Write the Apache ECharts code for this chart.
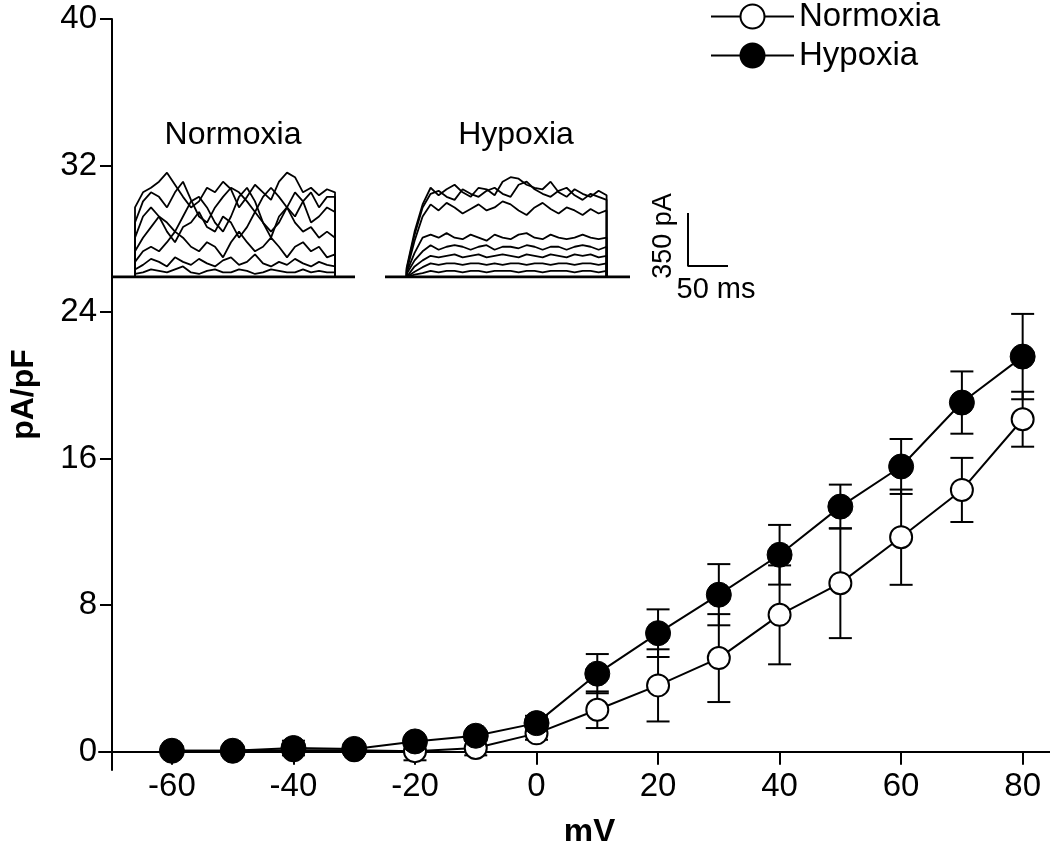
<!DOCTYPE html>
<html>
<head>
<meta charset="utf-8">
<script src="https://cdn.jsdelivr.net/npm/echarts@6/dist/echarts.min.js"></script>
<style>
html, body { margin: 0; padding: 0; background: #fff; }
#container { width: 1050px; height: 841px; }
</style>
</head>
<body>
<div id="container"></div>
<script>
// I-V data (mean +/- SEM, pA/pF)
var voltages = [-60, -50, -40, -30, -20, -10, 0, 10, 20, 30, 40, 50, 60, 70, 80];
var normoxiaMean = [0.05, 0.05, 0.08, 0.08, 0.03, 0.2, 1.0, 2.29, 3.62, 5.11, 7.47, 9.2, 11.71, 14.29, 18.15];
var normoxiaSem = [0.1, 0.1, 0.1, 0.1, 0.5, 0.4, 0.35, 1.0, 1.97, 2.4, 2.7, 3.0, 2.6, 1.75, 1.5];
var hypoxiaMean = [0.05, 0.05, 0.2, 0.15, 0.56, 0.87, 1.56, 4.26, 6.47, 8.57, 10.75, 13.38, 15.57, 19.06, 21.57];
var hypoxiaSem = [0.1, 0.1, 0.4, 0.1, 0.15, 0.2, 0.4, 1.07, 1.3, 1.67, 1.63, 1.2, 1.5, 1.7, 2.33];
var xTicks = [-60, -40, -20, 0, 20, 40, 60, 80];
var yTicks = [0, 8, 16, 24, 32, 40];

// inset current traces (pA), sampled every 10 ms of the 250 ms step
var traceTime = [0, 10, 20, 30, 40, 50, 60, 70, 80, 90, 100, 110, 120, 130, 140, 150, 160, 170, 180, 190, 200, 210, 220, 230, 240, 250];
var normA = [460, 560, 590, 630, 690, 610, 530, 460, 500, 590, 560, 630, 580, 460, 530, 610, 560, 510, 630, 690, 660, 560, 590, 540, 580, 560];
var normB = [360, 500, 560, 530, 460, 560, 630, 510, 400, 360, 460, 530, 590, 560, 500, 430, 530, 590, 530, 460, 400, 500, 560, 460, 530, 530];
var normC = [260, 400, 460, 400, 360, 300, 400, 500, 530, 460, 360, 300, 400, 530, 590, 500, 360, 300, 360, 460, 560, 500, 360, 400, 460, 430];
var normD = [170, 260, 330, 400, 300, 230, 330, 360, 430, 330, 300, 400, 360, 260, 330, 430, 360, 260, 400, 460, 360, 300, 330, 260, 300, 260];
var normE = [100, 170, 200, 170, 230, 300, 260, 200, 170, 230, 200, 130, 230, 300, 230, 170, 200, 260, 200, 130, 200, 230, 170, 200, 130, 150];
var normF = [50, 80, 120, 100, 70, 130, 100, 80, 120, 90, 70, 110, 130, 80, 100, 150, 90, 70, 100, 80, 120, 90, 70, 100, 80, 70];
var normG = [20, 30, 50, 40, 30, 50, 70, 30, 20, 40, 50, 30, 30, 50, 40, 20, 30, 50, 40, 30, 30, 50, 30, 40, 30, 30];

var hypoA = [60, 300, 480, 590, 540, 580, 610, 560, 530, 590, 580, 540, 630, 660, 650, 610, 590, 580, 630, 560, 530, 580, 550, 530, 570, 540];
var hypoB = [50, 280, 460, 550, 570, 530, 510, 580, 550, 530, 570, 590, 550, 530, 610, 630, 580, 550, 530, 570, 590, 540, 510, 550, 530, 510];
var hypoC = [40, 240, 400, 480, 440, 490, 460, 420, 450, 480, 440, 460, 500, 480, 440, 410, 460, 490, 450, 420, 460, 440, 410, 450, 420, 440];
var hypoD = [30, 160, 260, 280, 260, 290, 260, 250, 280, 260, 240, 280, 260, 250, 280, 290, 260, 250, 280, 260, 250, 260, 280, 260, 250, 260];
var hypoE = [20, 110, 170, 210, 180, 200, 210, 200, 180, 200, 210, 180, 200, 200, 190, 210, 200, 180, 200, 200, 180, 200, 210, 200, 180, 200];
var hypoF = [10, 70, 110, 140, 130, 140, 150, 130, 140, 150, 130, 140, 150, 140, 130, 150, 140, 130, 150, 140, 130, 150, 140, 150, 130, 140];
var hypoG = [5, 35, 65, 90, 80, 90, 90, 80, 90, 90, 80, 90, 80, 90, 90, 80, 90, 90, 80, 90, 90, 80, 90, 90, 80, 90];
var hypoH = [3, 15, 25, 40, 30, 40, 40, 30, 40, 40, 30, 40, 40, 40, 30, 40, 40, 30, 40, 40, 40, 30, 40, 40, 30, 40];

var normSweep = [-27.5, 275];
var hypoSweep = [-27, 279.25];
var scaleBarPA = 350, scaleBarMs = 50;

var FONT = '"Liberation Sans", Arial, sans-serif';

var dom = document.getElementById('container');
var myChart = echarts.init(dom);

function traceData(values) {
    var d = [[0, 0]];
    values.forEach(function (v, i) { d.push([traceTime[i], v]); });
    d.push([250, 0]);
    return d;
}

function traceSeries(values, axisIdx) {
    return {
        type: 'line', xAxisIndex: axisIdx, yAxisIndex: axisIdx,
        data: traceData(values), symbol: 'none', silent: true,
        lineStyle: { color: '#000', width: 1.8 }, z: 1
    };
}

function baselineSeries(span, axisIdx) {
    return {
        type: 'line', xAxisIndex: axisIdx, yAxisIndex: axisIdx,
        data: [[span[0], 0], [span[1], 0]], symbol: 'none', silent: true,
        lineStyle: { color: '#000', width: 3 }, z: 2
    };
}

function errorBars(name, mean, sem) {
    return {
        type: 'custom', name: name + ' SEM', z: 3, silent: true,
        data: voltages.map(function (v, i) { return [v, mean[i] - sem[i], mean[i] + sem[i]]; }),
        encode: { x: 0, y: [1, 2] },
        renderItem: function (params, api) {
            var x = api.value(0);
            var top = api.coord([x, api.value(2)]);
            var bot = api.coord([x, api.value(1)]);
            var hw = 11.5;
            var st = { stroke: '#000', lineWidth: 2 };
            return {
                type: 'group', children: [
                    { type: 'line', shape: { x1: top[0], y1: top[1], x2: bot[0], y2: bot[1] }, style: st },
                    { type: 'line', shape: { x1: top[0] - hw, y1: top[1], x2: top[0] + hw, y2: top[1] }, style: st },
                    { type: 'line', shape: { x1: bot[0] - hw, y1: bot[1], x2: bot[0] + hw, y2: bot[1] }, style: st }
                ]
            };
        }
    };
}

var hiddenAxis = { show: false, type: 'value' };

var series = [];
[normA, normB, normC, normD, normE, normF, normG].forEach(function (t) { series.push(traceSeries(t, 1)); });
series.push(baselineSeries(normSweep, 1));
[hypoA, hypoB, hypoC, hypoD, hypoE, hypoF, hypoG, hypoH].forEach(function (t) { series.push(traceSeries(t, 2)); });
series.push(baselineSeries(hypoSweep, 2));
series.push({
    type: 'line', xAxisIndex: 3, yAxisIndex: 3, symbol: 'none', silent: true,
    data: [[0, scaleBarPA], [0, 0], [scaleBarMs, 0]],
    lineStyle: { color: '#000', width: 2 }
});
series.push(errorBars('Normoxia', normoxiaMean, normoxiaSem));
series.push(errorBars('Hypoxia', hypoxiaMean, hypoxiaSem));
series.push({
    name: 'Normoxia', type: 'line', z: 4,
    data: voltages.map(function (v, i) { return [v, normoxiaMean[i]]; }),
    symbol: 'circle', symbolSize: 22,
    lineStyle: { color: '#000', width: 2 },
    itemStyle: { color: '#fff', borderColor: '#000', borderWidth: 2 }
});
series.push({
    name: 'Hypoxia', type: 'line', z: 5,
    data: voltages.map(function (v, i) { return [v, hypoxiaMean[i]]; }),
    symbol: 'circle', symbolSize: 25,
    lineStyle: { color: '#000', width: 2 },
    itemStyle: { color: '#000', borderColor: '#000', borderWidth: 1 }
});

var option = {
    backgroundColor: '#fff',
    animation: false,
    textStyle: { fontFamily: FONT, color: '#000' },
    legend: {
        data: ['Normoxia', 'Hypoxia'],
        orient: 'vertical', left: 710, top: 0, padding: 0,
        itemWidth: 83, itemHeight: 30, itemGap: 6,
        textStyle: { fontSize: 33, color: '#000', fontFamily: FONT }
    },
    grid: [
        { left: 99, right: 0, top: 19, bottom: 71, outerBoundsMode: 'none', containLabel: false },
        { left: 113, width: 242, top: 156, height: 121, outerBoundsMode: 'none' },
        { left: 385, width: 245, top: 156, height: 121, outerBoundsMode: 'none' },
        { left: 688, width: 40, top: 213, height: 53, outerBoundsMode: 'none' }
    ],
    xAxis: [
        {
            type: 'value', gridIndex: 0, min: -72, max: 84.5,
            name: 'mV', nameLocation: 'middle', nameGap: 46,
            nameTextStyle: { fontSize: 33, fontWeight: 'bold', color: '#000', fontFamily: FONT, padding: [0, 0, 0, 30] },
            axisLine: { onZero: true, lineStyle: { color: '#000', width: 2 } },
            axisTick: { customValues: xTicks, length: 13, lineStyle: { color: '#000', width: 2 } },
            axisLabel: { customValues: xTicks, fontSize: 33, color: '#000', margin: 0, fontFamily: FONT },
            splitLine: { show: false }
        },
        Object.assign({ gridIndex: 1, min: normSweep[0], max: normSweep[1] }, hiddenAxis),
        Object.assign({ gridIndex: 2, min: hypoSweep[0], max: hypoSweep[1] }, hiddenAxis),
        Object.assign({ gridIndex: 3, min: 0, max: scaleBarMs }, hiddenAxis)
    ],
    yAxis: [
        {
            type: 'value', gridIndex: 0, min: -1, max: 40, offset: -13,
            name: 'pA/pF', nameLocation: 'middle', nameGap: 72,
            nameTextStyle: { fontSize: 32, fontWeight: 'bold', color: '#000', fontFamily: FONT },
            axisLine: { show: true, onZero: false, lineStyle: { color: '#000', width: 2 } },
            axisTick: { show: true, customValues: yTicks, length: 12, lineStyle: { color: '#000', width: 2 } },
            axisLabel: { customValues: yTicks, fontSize: 33, color: '#000', margin: 15, fontFamily: FONT },
            splitLine: { show: false }
        },
        Object.assign({ gridIndex: 1, min: 0, max: 800 }, hiddenAxis),
        Object.assign({ gridIndex: 2, min: 0, max: 800 }, hiddenAxis),
        Object.assign({ gridIndex: 3, min: 0, max: scaleBarPA }, hiddenAxis)
    ],
    graphic: [
        { type: 'text', x: 233, y: 135, style: { text: 'Normoxia', font: '32px ' + FONT, fill: '#000', textAlign: 'center', textVerticalAlign: 'middle' } },
        { type: 'text', x: 516, y: 135, style: { text: 'Hypoxia', font: '32px ' + FONT, fill: '#000', textAlign: 'center', textVerticalAlign: 'middle' } },
        { type: 'text', x: 664, y: 236, rotation: Math.PI / 2, style: { text: '350 pA', font: '27px ' + FONT, fill: '#000', textAlign: 'center', textVerticalAlign: 'middle' } },
        { type: 'text', x: 716, y: 290, style: { text: '50 ms', font: '29px ' + FONT, fill: '#000', textAlign: 'center', textVerticalAlign: 'middle' } }
    ],
    series: series
};

myChart.setOption(option, true);
window.addEventListener('resize', function () {
    myChart.resize();
});
</script>
</body>
</html>
